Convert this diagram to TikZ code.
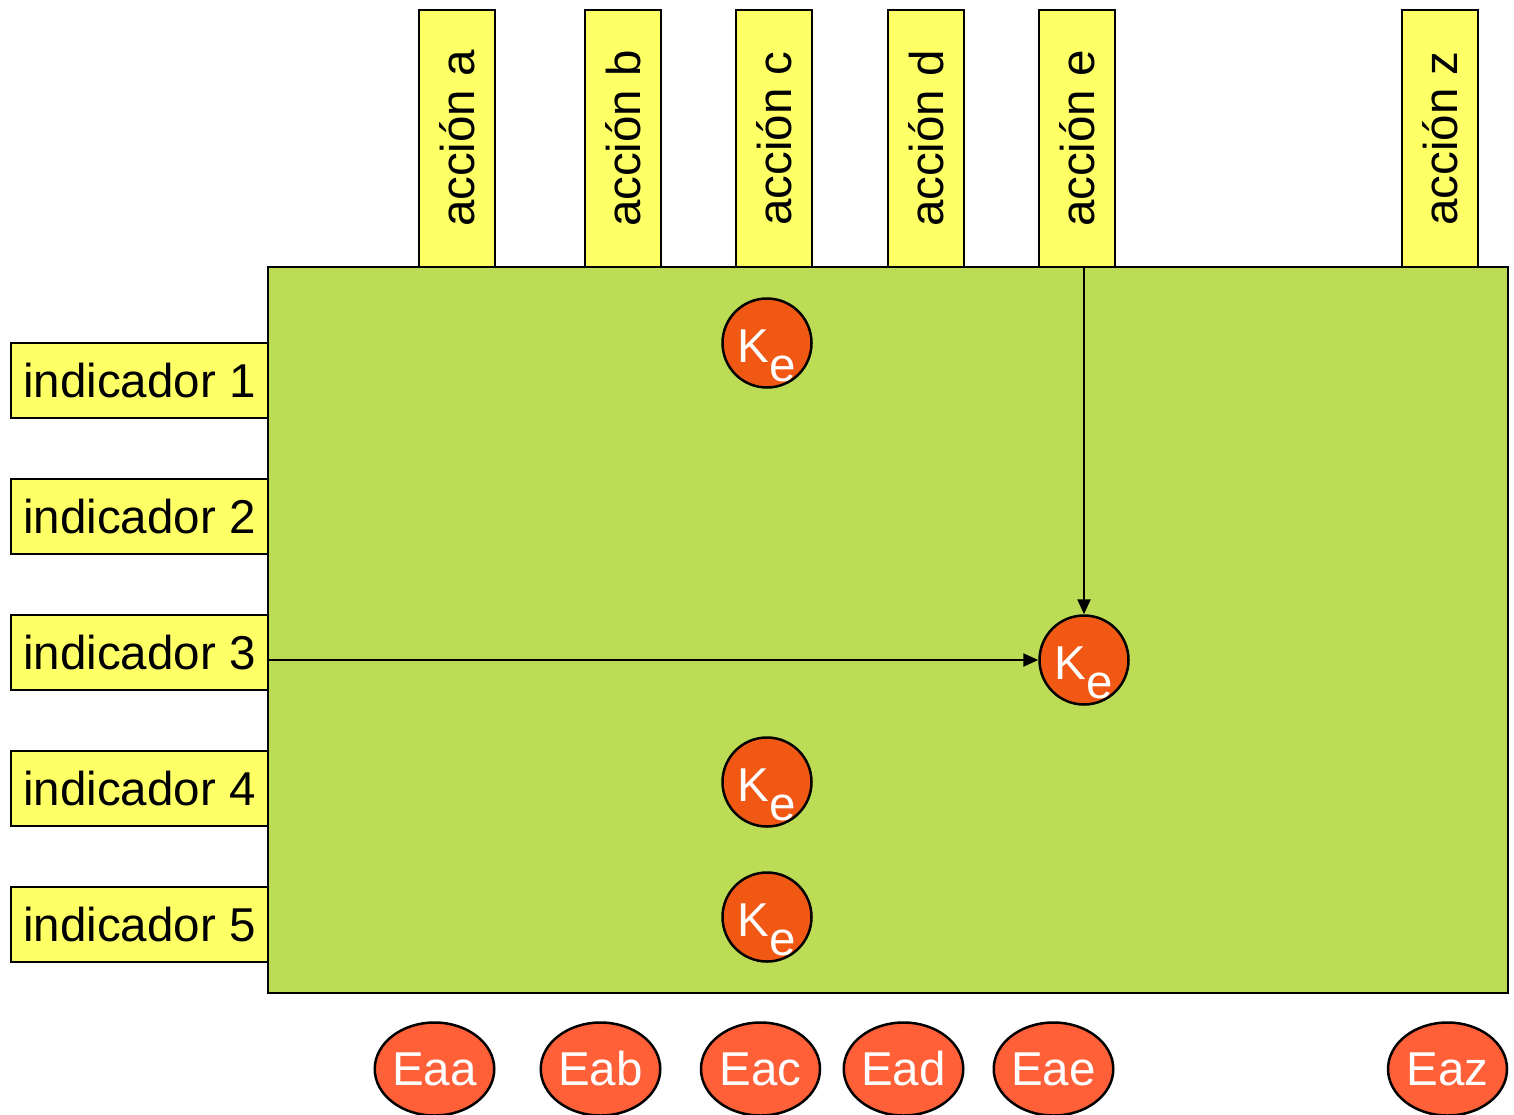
\documentclass[tikz,border=0pt]{standalone}
\usepackage{fontspec}
\setmainfont{Liberation Sans}
\usetikzlibrary{shapes.geometric,arrows.meta}
\definecolor{panelgreen}{HTML}{BCDC55}
\definecolor{boxyellow}{HTML}{FFFF66}
\definecolor{kred}{HTML}{F05814}
\definecolor{ered}{HTML}{FF6038}
\begin{document}
\begin{tikzpicture}[x=1pt,y=-1pt,
  bigfont/.style={font=\fontsize{47.5}{50}\selectfont},
  panel/.style={draw, line width=2.8pt, fill=panelgreen, inner sep=0pt},
  indbox/.style={draw, line width=2.8pt, fill=boxyellow, minimum width=257pt, minimum height=75pt, inner sep=0pt, bigfont},
  actbox/.style={draw, line width=2.8pt, fill=boxyellow, minimum width=76pt, minimum height=257pt, inner sep=0pt, bigfont},
  kcirc/.style={circle, draw, line width=2.5pt, fill=kred, minimum size=89pt, inner sep=0pt, text=white, bigfont, text height=38pt, text depth=0pt},
  eell/.style={ellipse, draw, line width=2.5pt, fill=ered, minimum width=119pt, minimum height=93pt, inner sep=0pt, text=white, bigfont},
  link/.style={line width=2.4pt, -{Triangle[length=15pt,width=13pt]}}
]
\clip (0,0) rectangle (1514,1114);
\fill[white] (0,0) rectangle (1514,1114);
% panel
\node[panel, minimum width=1240pt, minimum height=726pt] (panel) at (888,630) {};
% indicators
\node[indbox] (i1) at (139.5,380.5) {indicador 1};
\node[indbox] (i2) at (139.5,516.5) {indicador 2};
\node[indbox] (i3) at (139.5,652.5) {indicador 3};
\node[indbox] (i4) at (139.5,788.5) {indicador 4};
\node[indbox] (i5) at (139.5,924.5) {indicador 5};
% actions
\node[actbox] (aa) at (457,138.5) {\rotatebox{90}{acción a}};
\node[actbox] (ab) at (623,138.5) {\rotatebox{90}{acción b}};
\node[actbox] (ac) at (774,138.5) {\rotatebox{90}{acción c}};
\node[actbox] (ad) at (926,138.5) {\rotatebox{90}{acción d}};
\node[actbox] (ae) at (1077,138.5) {\rotatebox{90}{acción e}};
\node[actbox] (az) at (1440,138.5) {\rotatebox{90}{acción z}};
% Ke circles
\node[kcirc] (k1) at (767,343) {K\smash{\raisebox{-19pt}{e}}};
\node[kcirc] (k2) at (1084,660) {K\smash{\raisebox{-19pt}{e}}};
\node[kcirc] (k3) at (767,782) {K\smash{\raisebox{-19pt}{e}}};
\node[kcirc] (k4) at (767,917) {K\smash{\raisebox{-19pt}{e}}};
% connectors
\draw[link] (k2.west -| i3.east) -- (k2.west);
\draw[link] (k2.north |- ae.south) -- (k2.north);
% effects
\node[eell] (eaa) at (434.5,1069) {Eaa};
\node[eell] (eab) at (600.5,1069) {Eab};
\node[eell] (eac) at (760.5,1069) {Eac};
\node[eell] (ead) at (903.5,1069) {Ead};
\node[eell] (eae) at (1053.5,1069) {Eae};
\node[eell] (eaz) at (1447.5,1069) {Eaz};
\end{tikzpicture}
\end{document}
